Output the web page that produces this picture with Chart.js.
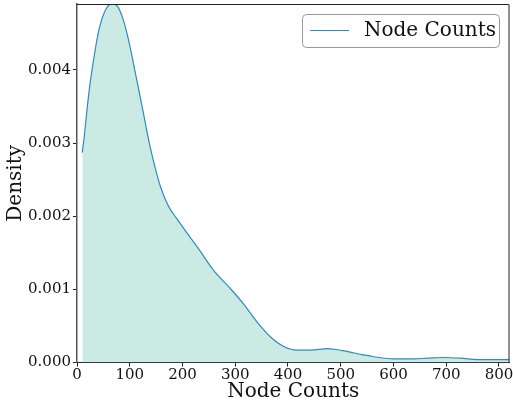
<!DOCTYPE html>
<html lang="en">
<head>
  <meta charset="utf-8">
  <title>Node Counts density</title>
  <script src="https://cdn.jsdelivr.net/npm/chart.js@4.4.1/dist/chart.umd.min.js"></script>
  <style>
    html, body { margin: 0; padding: 0; background: #fff; }
    .wrap { width: 513px; height: 404px; position: relative; }
  </style>
</head>
<body>
  <div class="wrap"><canvas id="kde"></canvas></div>
  <script>
    // values
    const nodeCounts = [10, 14.4, 18.9, 23.8, 30.2, 36.5, 42.7, 52.2, 61.6, 68, 77.5, 87, 96.4, 105.9, 115.3, 124.8, 132.3, 138.6, 144.8, 151.2, 157.5, 166.9, 176.4, 189, 204.7, 228, 259, 291, 316, 342, 367, 392, 418, 443, 475, 506, 540, 563, 601, 633, 665, 696, 728, 760, 804, 820];
    const density = [0.00287, 0.00313, 0.00345, 0.00376, 0.00408, 0.00436, 0.00458, 0.00479, 0.00489, 0.00490, 0.00486, 0.00470, 0.00445, 0.00413, 0.00379, 0.00345, 0.00317, 0.00295, 0.00276, 0.00258, 0.00242, 0.00224, 0.00210, 0.00197, 0.00181, 0.00158, 0.00126, 0.00101, 0.00080, 0.00055, 0.00035, 0.00022, 0.00017, 0.00017, 0.00019, 0.00016, 0.00011, 0.00008, 0.00005, 0.00005, 0.00006, 0.00007, 0.00006, 0.00004, 0.00004, 0.00004];
    const xTicks = [0, 100, 200, 300, 400, 500, 600, 700, 800];
    const yTicks = [0, 0.001, 0.002, 0.003, 0.004];
    const seriesName = 'Node Counts';

    const serif = 'DejaVu Serif';
    const lineColor = '#2e8bc0';
    const fillColor = '#cceae4';

    const points = nodeCounts.map((x, i) => ({ x: x, y: density[i] }));

    // frame + legend box like matplotlib
    const frameLegend = {
      id: 'frameLegend',
      afterDraw(chart) {
        const { ctx, chartArea: a } = chart;
        ctx.save();
        ctx.strokeStyle = '#222';
        ctx.lineWidth = 1;
        ctx.beginPath();
        ctx.moveTo(a.left, a.top + 0.5);
        ctx.lineTo(a.right - 0.5, a.top + 0.5);
        ctx.lineTo(a.right - 0.5, a.bottom);
        ctx.stroke();

        // legend
        const bx = 302.5, by = 14.5, bw = 197, bh = 33, r = 4;
        ctx.beginPath();
        ctx.moveTo(bx + r, by);
        ctx.arcTo(bx + bw, by, bx + bw, by + bh, r);
        ctx.arcTo(bx + bw, by + bh, bx, by + bh, r);
        ctx.arcTo(bx, by + bh, bx, by, r);
        ctx.arcTo(bx, by, bx + bw, by, r);
        ctx.closePath();
        ctx.fillStyle = 'rgba(255,255,255,0.9)';
        ctx.fill();
        ctx.strokeStyle = '#999';
        ctx.stroke();

        ctx.strokeStyle = lineColor;
        ctx.lineWidth = 1.2;
        ctx.beginPath();
        ctx.moveTo(310, 30.5);
        ctx.lineTo(349, 30.5);
        ctx.stroke();

        ctx.fillStyle = '#111';
        ctx.font = '20px "' + serif + '"';
        ctx.textBaseline = 'middle';
        ctx.textAlign = 'left';
        ctx.fillText(seriesName, 364, 31);
        ctx.restore();
      }
    };

    new Chart(document.getElementById('kde'), {
      type: 'line',
      data: {
        datasets: [{
          label: seriesName,
          data: points,
          borderColor: lineColor,
          borderWidth: 1.2,
          backgroundColor: fillColor,
          fill: 'origin',
          pointRadius: 0,
          cubicInterpolationMode: 'monotone'
        }]
      },
      options: {
        responsive: true,
        maintainAspectRatio: false,
        animation: false,
        devicePixelRatio: 1,
        layout: { padding: { top: 4, right: 3.5, left: 0, bottom: 0 } },
        plugins: {
          legend: { display: false },
          tooltip: { enabled: false }
        },
        scales: {
          x: {
            type: 'linear',
            min: 0,
            max: 820,
            afterBuildTicks(scale) { scale.ticks = xTicks.map(v => ({ value: v })); },
            afterFit(scale) { scale.height = 41.4; scale.paddingLeft = 0; scale.paddingRight = 0; },
            grid: { display: true, drawOnChartArea: false, tickLength: 4, color: '#222' },
            border: { display: true, color: '#222', width: 1 },
            ticks: {
              color: '#111',
              padding: 0,
              maxRotation: 0,
              autoSkip: false,
              font: { family: serif, size: 15 },
              callback: v => String(v)
            },
            title: {
              display: true,
              text: 'Node Counts',
              color: '#111',
              padding: { top: 0, bottom: 0 },
              font: { family: serif, size: 20 }
            }
          },
          y: {
            min: 0,
            max: 0.00490,
            afterBuildTicks(scale) { scale.ticks = yTicks.map(v => ({ value: v })); },
            afterFit(scale) { scale.width = 77; scale.paddingTop = 0; scale.paddingBottom = 0; },
            grid: { display: true, drawOnChartArea: false, tickLength: 4, color: '#222' },
            border: { display: true, color: '#555', width: 1.5 },
            ticks: {
              color: '#111',
              padding: 2,
              autoSkip: false,
              font: { family: serif, size: 15 },
              callback: v => Number(v).toFixed(3)
            },
            title: {
              display: true,
              text: 'Density',
              color: '#111',
              padding: { top: 4, bottom: 0 },
              font: { family: serif, size: 20 }
            }
          }
        }
      },
      plugins: [frameLegend]
    });
  </script>
</body>
</html>
